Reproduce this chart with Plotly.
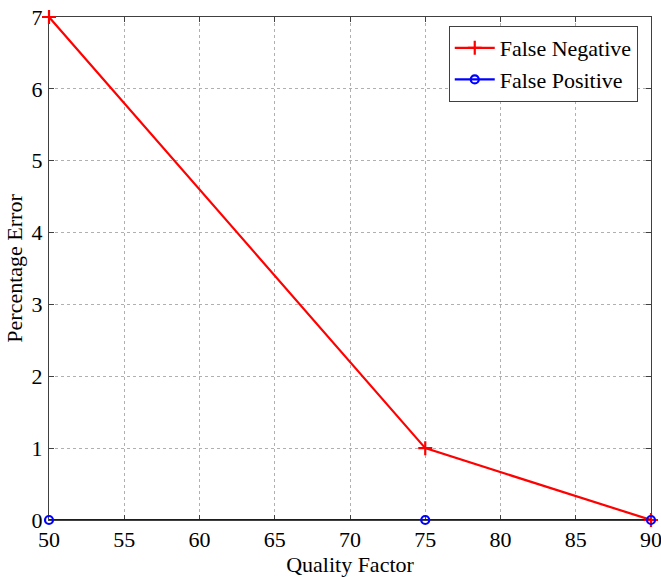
import plotly.graph_objects as go

quality = [50, 75, 90]
false_negative = [7, 1, 0]
false_positive = [0, 0, 0]
x_ticks = [50, 55, 60, 65, 70, 75, 80, 85, 90]
y_ticks = [0, 1, 2, 3, 4, 5, 6, 7]

font = "Liberation Serif"

fig = go.Figure()
fig.add_trace(go.Scatter(
    x=quality, y=false_negative, name="False Negative", mode="lines+markers",
    line=dict(color="#ff0000", width=2.2),
    marker=dict(symbol="cross-thin-open", size=10, line=dict(color="#ff0000", width=2.2)),
    cliponaxis=False))
fig.add_trace(go.Scatter(
    x=quality, y=false_positive, name="False Positive", mode="lines+markers",
    line=dict(color="#0000ff", width=2.2),
    marker=dict(symbol="circle-open", size=8, line=dict(color="#0000ff", width=2.2)),
    cliponaxis=False))

axis_common = dict(
    showline=True, linecolor="#404040", linewidth=1, mirror="ticks",
    ticks="inside", ticklen=5, tickcolor="#404040",
    showgrid=True, gridcolor="#b0b0b0", griddash="dot", gridwidth=1,
    zeroline=False, tickfont=dict(family=font, size=22, color="black"),
    automargin=False, layer="below traces", ticklabeloverflow="allow",
)
fig.update_xaxes(range=[50, 90], tickvals=x_ticks, ticktext=[str(v) for v in x_ticks],
                 ticklabelstandoff=0,
                 title=dict(text="Quality Factor", font=dict(family=font, size=22, color="black"), standoff=0),
                 **axis_common)
fig.update_yaxes(range=[0, 7], tickvals=y_ticks, ticktext=[str(v) for v in y_ticks],
                 ticklabelstandoff=1,
                 title=dict(text="Percentage Error", font=dict(family=font, size=22, color="black"), standoff=2),
                 **axis_common)

fig.update_layout(
    width=661, height=577,
    margin=dict(l=49, r=10, t=17, b=57),
    plot_bgcolor="white", paper_bgcolor="white",
    font=dict(family=font, size=22, color="black"),
    legend=dict(x=0.978, y=0.982, xanchor="right", yanchor="top",
                bgcolor="white", bordercolor="#404040", borderwidth=1,
                font=dict(family=font, size=22, color="black"),
                tracegroupgap=0, itemwidth=40),
    showlegend=True,
)
fig.write_html("out.html")
